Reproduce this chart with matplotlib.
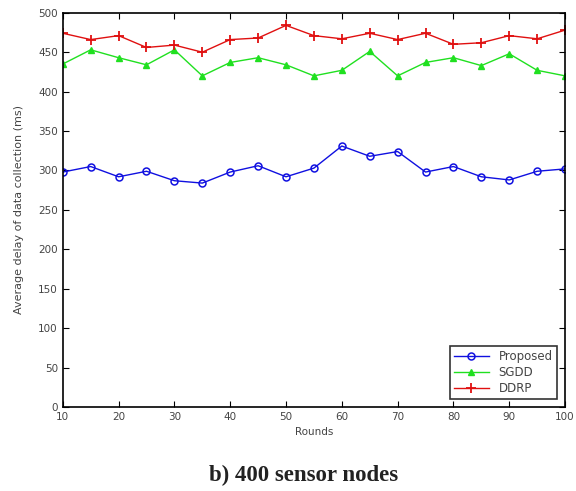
import numpy as np
import matplotlib.pyplot as plt

rounds = [10, 15, 20, 25, 30, 35, 40, 45, 50, 55, 60, 65, 70, 75, 80, 85, 90, 95, 100]
proposed = [298, 305, 292, 299, 287, 284, 298, 306, 292, 303, 331, 318, 324, 298, 305, 292, 288, 299, 302]
sgdd = [435, 453, 443, 434, 453, 420, 437, 443, 434, 420, 427, 451, 420, 437, 443, 433, 448, 427, 420]
ddrp = [474, 466, 471, 456, 459, 450, 466, 468, 484, 471, 467, 474, 466, 474, 460, 462, 471, 467, 478]

fig = plt.figure(figsize=(5.76, 4.91), dpi=100)
ax = fig.add_axes([0.109, 0.171, 0.872, 0.803])

ax.plot(rounds, proposed, color='#1010e0', marker='o', markersize=5, mfc='none', mew=1.1, lw=1, label='Proposed')
ax.plot(rounds, sgdd, color='#20e020', marker='^', markersize=5, lw=1, label='SGDD')
ax.plot(rounds, ddrp, color='#e01010', marker='+', markersize=7, mew=1.3, lw=1, label='DDRP')

ax.set_xlim(10, 100)
ax.set_ylim(0, 500)
ax.set_xticks(np.arange(10, 101, 10))
ax.set_yticks(np.arange(0, 501, 50))
ax.tick_params(direction='in', top=True, right=True, labelsize=7.5, length=4, colors='black', labelcolor='#444444')
for s in ax.spines.values():
    s.set_linewidth(1.2)

ax.set_xlabel('Rounds', fontsize=7.5, color='#444444', labelpad=4)
ax.set_ylabel('Average delay of data collection (ms)', fontsize=8, color='#444444', labelpad=10)

leg = ax.legend(loc='lower right', fontsize=8.5, fancybox=False, edgecolor='black',
                borderaxespad=0.7, handlelength=3, labelspacing=0.25, borderpad=0.35)
leg.get_frame().set_linewidth(1.2)
for t in leg.get_texts():
    t.set_color('#444444')

fig.text(0.527, 0.031, 'b) 400 sensor nodes', ha='center', va='center',
         fontsize=16.5, fontweight='bold', family='Liberation Serif', color='#222222')

fig.savefig('out.png', dpi=100)
